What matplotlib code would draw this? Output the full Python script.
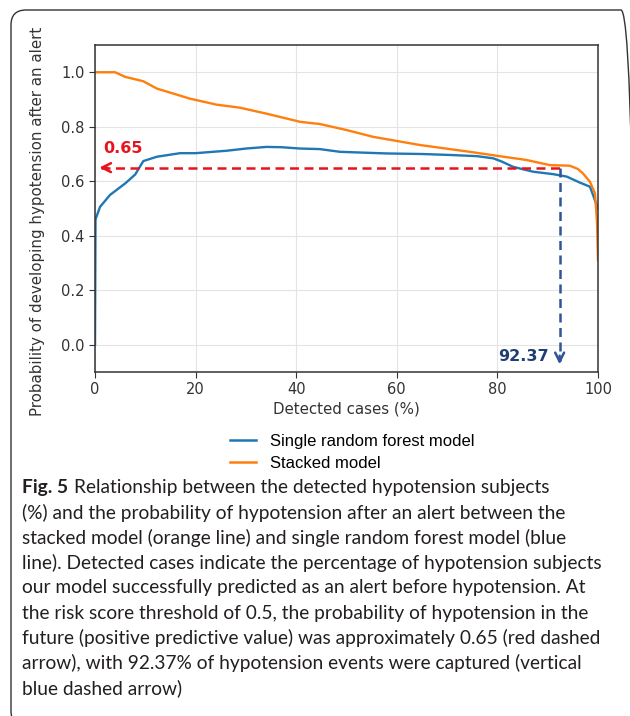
import matplotlib
matplotlib.use("Agg")
import matplotlib.pyplot as plt
from matplotlib.lines import Line2D
from matplotlib.patches import FancyBboxPatch
from matplotlib import transforms

# values
rf_x = [0, 0.1, 1.0, 3.0, 6.0, 8.0, 9.6, 12.3, 16.9, 20, 26.2, 30, 34.1, 37, 40.8,
        44.7, 48.7, 58, 65, 71.2, 76, 79.2, 80.9, 83.1, 87.1, 91.1, 93.8, 96.4,
        98.4, 99.4, 100]
rf_y = [0.0, 0.46, 0.506, 0.55, 0.592, 0.625, 0.674, 0.69, 0.703, 0.703, 0.712,
        0.72, 0.726, 0.725, 0.72, 0.718, 0.708, 0.702, 0.70, 0.696, 0.692, 0.684,
        0.672, 0.653, 0.635, 0.626, 0.617, 0.595, 0.58, 0.53, 0.5]

stack_x = [0, 4, 6, 9.6, 12.3, 15, 18.9, 24.2, 28.8, 34.1, 40.8, 44.7, 50, 55.3,
           64.6, 74.5, 81.2, 85.8, 90.5, 93, 94.4, 96, 97, 98.4, 99.4, 99.8, 100]
stack_y = [1.0, 1.0, 0.983, 0.967, 0.94, 0.925, 0.903, 0.881, 0.87, 0.848, 0.818,
           0.81, 0.788, 0.763, 0.733, 0.708, 0.69, 0.678, 0.659, 0.658, 0.657,
           0.645, 0.629, 0.598, 0.556, 0.45, 0.31]

ppv = 0.65
detected = 92.37

series_names = ['Single random forest model', 'Stacked model']
caption_bold = 'Fig. 5'
caption_lines = [
    'Relationship between the detected hypotension subjects',
    '(%) and the probability of hypotension after an alert between the',
    'stacked model (orange line) and single random forest model (blue',
    'line). Detected cases indicate the percentage of hypotension subjects',
    'our model successfully predicted as an alert before hypotension. At',
    'the risk score threshold of 0.5, the probability of hypotension in the',
    'future (positive predictive value) was approximately 0.65 (red dashed',
    'arrow), with 92.37% of hypotension events were captured (vertical',
    'blue dashed arrow)',
]

W, H = 630, 716
fig = plt.figure(figsize=(W / 100, H / 100), dpi=100)
px = transforms.Affine2D().scale(1 / 100) + fig.dpi_scale_trans  # pixel units, origin bottom-left

# rounded frame (only top/left visible)
frame = FancyBboxPatch((11, H - 726), 625, 716, boxstyle='round,pad=0,rounding_size=15',
                       transform=px, fill=False, ec='#333333', lw=1.0)
fig.add_artist(frame)

ax = fig.add_axes([95 / W, 1 - 372 / H, 503 / W, 327 / H])
ax.plot(rf_x, rf_y, color='#1f77b4', lw=1.7)
ax.plot(stack_x, stack_y, color='#ff7f0e', lw=1.7)

ax.set_xlim(0, 100)
ax.set_ylim(-0.1, 1.1)
ax.set_xticks([0, 20, 40, 60, 80, 100])
ax.set_yticks([0.0, 0.2, 0.4, 0.6, 0.8, 1.0])
ax.grid(True, color='#e4e4e4', lw=0.8)
ax.set_axisbelow(True)
for s in ax.spines.values():
    s.set_color('#333333')
    s.set_linewidth(1.1)
ax.tick_params(labelsize=10.5, colors='#333333', length=4)

ax.set_xlabel('Detected cases (%)', fontsize=10.8, color='#333333', labelpad=3)
ax.set_ylabel('Probability of developing hypotension after an alert', fontsize=10.8,
              color='#333333')
ax.yaxis.set_label_coords(-0.1, 0.462)

# red dashed arrow (PPV)
red = '#e8141c'
ax.plot([1.2, detected], [ppv, ppv], color=red, lw=1.8, dashes=(3.6, 2.2))
ax.annotate('', xy=(0.3, ppv), xytext=(3.0, ppv),
            arrowprops=dict(arrowstyle='->', color=red, lw=1.8, mutation_scale=16))
ax.text(1.6, 0.72, '0.65', color=red, fontsize=11.5, fontweight='bold', va='center')

# blue dashed arrow (detected cases)
navy = '#2f5597'
ax.plot([detected, detected], [ppv, -0.06], color=navy, lw=1.8, dashes=(3.6, 2.2))
ax.annotate('', xy=(detected, -0.082), xytext=(detected, -0.03),
            arrowprops=dict(arrowstyle='->', color=navy, lw=1.8, mutation_scale=16))
ax.text(90.3, -0.043, '92.37', color='#1f3f73', fontsize=11.5, fontweight='bold',
        va='center', ha='right')

handles = [Line2D([], [], color='#1f77b4', lw=1.8), Line2D([], [], color='#ff7f0e', lw=1.8)]
fig.legend(handles, series_names, loc='upper center', bbox_to_anchor=(352 / W, 1 - 419 / H),
           frameon=False, prop={'family': 'Liberation Sans', 'size': 12},
           handlelength=1.6, handletextpad=0.8, labelspacing=0.4)

# caption
cap_font = 'Lato'
cap_size = 14
cap_color = '#231f20'
texts = []
fig.text(22 / W, 1 - 488 / H, caption_bold, family=cap_font, fontsize=cap_size,
         fontweight='bold', color=cap_color, va='center')
for i, line in enumerate(caption_lines):
    x0 = 74 if i == 0 else 22
    t = fig.text(x0 / W, 1 - (488 + 25 * i) / H, line, family=cap_font, fontsize=cap_size,
                 color=cap_color, va='center')
    texts.append(t)

# shrink/grow caption so the longest line spans like the reference
r = fig.canvas.get_renderer()
widest = max(t.get_window_extent(r).width for t in texts[1:])
scale = 583 / widest
for t in fig.texts:
    t.set_fontsize(cap_size * scale)

fig.savefig('out.png', dpi=100)
